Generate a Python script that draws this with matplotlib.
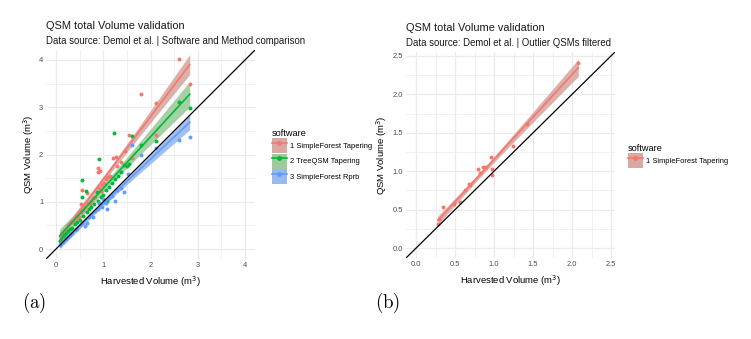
import numpy as np
import matplotlib
matplotlib.use("Agg")
import matplotlib.pyplot as plt
from matplotlib.patches import Patch
from matplotlib.lines import Line2D
from matplotlib.legend_handler import HandlerTuple

plt.rcParams["font.family"] = ["Liberation Sans", "DejaVu Sans"]

# Panel (a): harvested vs QSM volume per software
sf_taper_x = [0.08, 0.10, 0.12, 0.15, 0.18, 0.22, 0.25, 0.30, 0.33, 0.38, 0.42, 0.45,
              0.48, 0.52, 0.54, 0.55, 0.58, 0.62, 0.66, 0.68, 0.72, 0.75, 0.78, 0.82,
              0.88, 0.90, 0.93, 0.92, 0.95, 0.98, 1.02, 1.05, 1.10, 1.15, 1.21, 1.28,
              1.30, 1.38, 1.46, 1.54, 1.60, 1.79, 2.11, 2.12, 2.61, 2.83]
sf_taper_y = [0.18, 0.25, 0.35, 0.30, 0.38, 0.42, 0.50, 0.55, 0.60, 0.58, 0.66, 0.72,
              0.68, 0.78, 0.95, 1.25, 0.82, 0.90, 1.18, 0.98, 0.95, 1.02, 1.08, 1.10,
              1.62, 1.72, 1.66, 1.30, 1.22, 1.35, 1.40, 1.48, 1.52, 1.55, 1.92, 1.94,
              1.75, 1.85, 2.08, 2.41, 1.92, 3.28, 3.08, 2.41, 4.03, 3.49]

treeqsm_x = [0.08, 0.10, 0.14, 0.18, 0.22, 0.26, 0.30, 0.35, 0.40, 0.45, 0.50, 0.55,
             0.56, 0.58, 0.63, 0.65, 0.70, 0.75, 0.80, 0.86, 0.88, 0.92, 0.95, 1.00,
             1.05, 1.08, 1.12, 1.18, 1.22, 1.25, 1.32, 1.38, 1.44, 1.50, 1.55, 1.60,
             1.80, 2.11, 2.61, 2.83]
treeqsm_y = [0.18, 0.22, 0.28, 0.30, 0.35, 0.38, 0.42, 0.45, 0.52, 0.58, 0.62, 1.46,
             1.11, 0.70, 1.23, 0.78, 0.85, 0.90, 0.95, 1.21, 1.02, 1.90, 1.10, 1.15,
             1.25, 1.02, 1.32, 1.40, 2.45, 1.48, 1.55, 1.62, 1.78, 1.75, 1.80, 2.40,
             2.20, 2.29, 3.10, 2.98]

sf_rprb_x = [0.08, 0.10, 0.14, 0.18, 0.22, 0.26, 0.30, 0.35, 0.40, 0.45, 0.50, 0.55,
             0.61, 0.66, 0.70, 0.75, 0.78, 0.82, 0.88, 0.92, 0.97, 1.00, 1.05, 1.08,
             1.12, 1.18, 1.25, 1.30, 1.38, 1.44, 1.53, 1.61, 1.80, 2.11, 2.61, 2.83]
sf_rprb_y = [0.08, 0.12, 0.15, 0.20, 0.22, 0.25, 0.30, 0.33, 0.40, 0.42, 0.50, 0.55,
             0.48, 0.55, 0.68, 0.72, 0.67, 0.80, 0.85, 0.98, 0.88, 1.05, 0.98, 0.85,
             1.08, 1.12, 1.02, 1.25, 1.30, 1.20, 1.59, 2.20, 2.00, 2.14, 2.31, 2.38]

# Panel (b): outlier QSMs filtered
filt_x = [0.28, 0.30, 0.34, 0.49, 0.56, 0.63, 0.68, 0.69, 0.80, 0.82, 0.86, 0.90,
          0.96, 0.97, 0.98, 1.24, 1.42, 2.08]
filt_y = [0.31, 0.38, 0.53, 0.58, 0.60, 0.76, 0.84, 0.82, 1.03, 0.98, 1.06, 1.05,
          1.19, 0.95, 1.03, 1.33, 1.61, 2.41]

labels = ["1 SimpleForest Tapering", "2 TreeQSM Tapering", "3 SimpleForest Rprb"]
colors = ["#F8766D", "#00BA38", "#619CFF"]
band_colors = ["#D8A9A3", "#9CCB9C", "#97B9EE"]

TICK_COLOR = "#4D4D4D"
GRID = "#EBEBEB"


def lm_band(x, y, n_pts=80):
    # linear fit with 95% confidence band of the mean (like geom_smooth(method="lm"))
    x = np.asarray(x, float)
    y = np.asarray(y, float)
    n = len(x)
    b, a = np.polyfit(x, y, 1)
    resid = y - (a + b * x)
    s = np.sqrt(np.sum(resid ** 2) / (n - 2))
    xbar = x.mean()
    sxx = np.sum((x - xbar) ** 2)
    xs = np.linspace(x.min(), x.max(), n_pts)
    fit = a + b * xs
    se = s * np.sqrt(1.0 / n + (xs - xbar) ** 2 / sxx)
    t = 2.02
    return xs, fit, fit - t * se, fit + t * se


def style_axes(ax, lim, major, minor):
    ax.set_xlim(lim)
    ax.set_ylim(lim)
    ax.set_xticks(major)
    ax.set_yticks(major)
    ax.set_xticks(minor, minor=True)
    ax.set_yticks(minor, minor=True)
    ax.grid(which="major", color=GRID, lw=0.9)
    ax.grid(which="minor", color=GRID, lw=0.5)
    ax.set_axisbelow(True)
    for sp in ax.spines.values():
        sp.set_visible(False)
    ax.tick_params(which="both", length=0, labelsize=5.4, labelcolor=TICK_COLOR, pad=2)
    ax.set_xlabel("Harvested Volume (m$^3$)", fontsize=6.8, labelpad=4)
    ax.set_ylabel("QSM Volume (m$^3$)", fontsize=6.8, labelpad=2.5)


def draw_series(ax, x, y, color, band):
    xs, fit, lo, hi = lm_band(x, y)
    ax.fill_between(xs, lo, hi, color=band, alpha=0.9, lw=0, zorder=2)
    ax.scatter(x, y, s=8, color=color, lw=0, zorder=3)
    ax.plot(xs, fit, color=color, lw=1.2, zorder=4)


def add_titles(ax, subtitle):
    ax.text(0.0, 1.09, "QSM total Volume validation", transform=ax.transAxes,
            fontsize=7.9, ha="left", va="bottom", color="#1A1A1A")
    ax.text(0.0, 1.018, subtitle, transform=ax.transAxes, fontsize=6.9,
            ha="left", va="bottom", color="#1A1A1A")


fig = plt.figure(figsize=(7.51, 3.39), dpi=100)

# ---- panel (a)
ax1 = fig.add_axes([46 / 751, 1 - 259 / 339, 209 / 751, 209 / 339])
lim1 = (-0.21, 4.21)
style_axes(ax1, lim1, [0, 1, 2, 3, 4], [0.5, 1.5, 2.5, 3.5])
series = [(sf_taper_x, sf_taper_y), (treeqsm_x, treeqsm_y), (sf_rprb_x, sf_rprb_y)]
for (sx, sy), c, bc in zip(series, colors, band_colors):
    draw_series(ax1, sx, sy, c, bc)
ax1.plot(lim1, lim1, color="black", lw=0.9, zorder=5)
add_titles(ax1, "Data source: Demol et al. | Software and Method comparison")

handles = [(Patch(color=bc, lw=0), Line2D([], [], color=c, lw=1.2, marker="o", ms=2.5))
           for c, bc in zip(colors, band_colors)]
leg_kw = dict(frameon=False, title="software", fontsize=5.4, title_fontsize=6.6,
              handler_map={tuple: HandlerTuple(ndivide=1)}, handlelength=2.0,
              handleheight=2.7, labelspacing=0.05, handletextpad=0.5, alignment="left")
fig.legend(handles, labels, loc="upper left", bbox_to_anchor=(265 / 751, 1 - 122 / 339), **leg_kw)

# ---- panel (b)
ax2 = fig.add_axes([406 / 751, 1 - 258 / 339, 209 / 751, 206 / 339])
lim2 = (-0.128, 2.55)
style_axes(ax2, lim2, [0.0, 0.5, 1.0, 1.5, 2.0, 2.5], [0.25, 0.75, 1.25, 1.75, 2.25])
ax2.set_xticklabels(["0.0", "0.5", "1.0", "1.5", "2.0", "2.5"])
ax2.set_yticklabels(["0.0", "0.5", "1.0", "1.5", "2.0", "2.5"])
draw_series(ax2, filt_x, filt_y, colors[0], band_colors[0])
ax2.plot(lim2, lim2, color="black", lw=0.9, zorder=5)
add_titles(ax2, "Data source: Demol et al. | Outlier QSMs filtered")

fig.legend(handles[:1], labels[:1], loc="upper left", bbox_to_anchor=(621 / 751, 1 - 137 / 339), **leg_kw)

# sub-figure labels
fig.text(22 / 751, 1 - 303 / 339, r"$\mathrm{(a)}$", fontsize=13.5, math_fontfamily="cm",
         ha="left", va="center")
fig.text(375 / 751, 1 - 303 / 339, r"$\mathrm{(b)}$", fontsize=13.5, math_fontfamily="cm",
         ha="left", va="center")

fig.savefig("out.png", dpi=100)
